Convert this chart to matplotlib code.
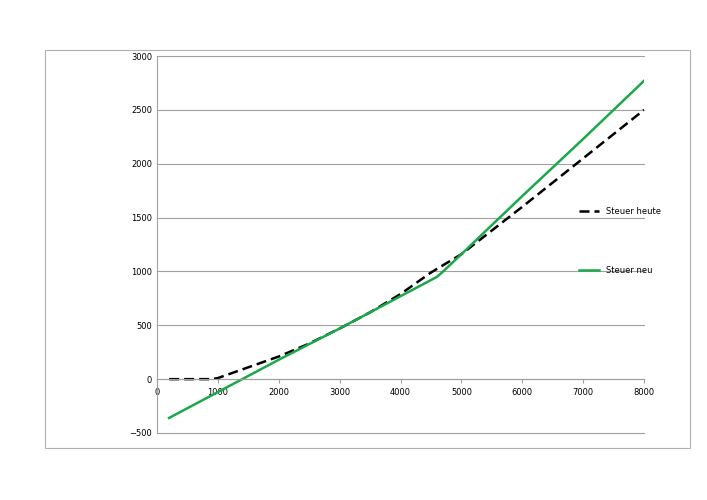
import matplotlib.pyplot as plt
from matplotlib.patches import Rectangle

# Einkommen vs. Steuer
heute_x = [200, 500, 900, 1000, 1500, 2000, 2500, 3000, 3500, 4000, 4500, 5000, 6000, 7000, 8000]
heute_y = [0, 0, 0, 10, 110, 210, 330, 470, 620, 790, 990, 1160, 1600, 2050, 2500]
neu_x = [200, 1000, 2000, 3000, 4000, 4500, 4600, 4700, 5000, 6000, 7000, 8000]
neu_y = [-360, -120, 180, 470, 770, 920, 950, 1000, 1160, 1700, 2230, 2770]

fig = plt.figure(figsize=(7.07, 5), dpi=100)
fig.patches.append(Rectangle((45 / 707, 1 - 448 / 500), 645 / 707, 398 / 500,
                             transform=fig.transFigure, fill=False,
                             edgecolor='#b0b0b0', linewidth=0.8))
ax = fig.add_axes([0.222, 0.134, 0.689, 0.754])

ax.plot(heute_x, heute_y, color='black', linestyle=(0, (4, 2)), linewidth=1.8, label='Steuer heute')
ax.plot(neu_x, neu_y, color='#1aa84a', linewidth=1.8, label='Steuer neu')

ax.set_xlim(0, 8000)
ax.set_ylim(-500, 3000)
ax.set_xticks(range(0, 8001, 1000))
ax.set_yticks(range(-500, 3001, 500))
for v in range(-500, 3001, 500):
    ax.axhline(v, color='#a0a0a0', linewidth=0.8, zorder=0, clip_on=False)
for s in ['top', 'right']:
    ax.spines[s].set_visible(False)
ax.spines['left'].set_color('#a0a0a0')
ax.spines['bottom'].set_position(('data', 0))
ax.spines['bottom'].set_color('#a0a0a0')
ax.tick_params(labelsize=6, length=3, color='#a0a0a0')
ax.tick_params(axis='y', length=0)

ax.legend(loc='center left', bbox_to_anchor=(0.85, 0.51), frameon=False,
          fontsize=6, labelspacing=6, handlelength=2.5)

fig.savefig('out.png', dpi=100)
